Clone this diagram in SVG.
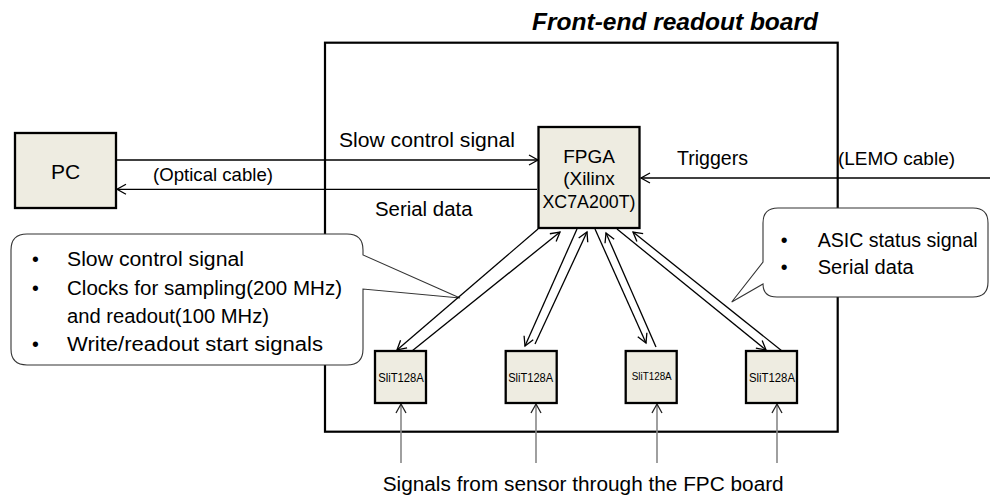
<svg xmlns="http://www.w3.org/2000/svg" width="990" height="497" viewBox="0 0 990 497">
<style>
text{font-family:"Liberation Sans",Arial,sans-serif;fill:#000}
.box{fill:#EEECE1;stroke:#000;stroke-width:2.3}
.board{fill:none;stroke:#000;stroke-width:2.2}
.call{fill:#fff;stroke:#333;stroke-width:1.1}
.ln{stroke:#000;stroke-width:1.3;fill:none;marker-end:url(#ah)}
.in{stroke:#888;stroke-width:1.6;fill:none;marker-end:url(#ahg)}
.t{font-size:19.5px}
.s{font-size:12.5px}
</style>
<defs>
<marker id="ah" markerUnits="userSpaceOnUse" markerWidth="12" markerHeight="12" refX="9" refY="5" orient="auto" overflow="visible">
<path d="M0,0 L9,5 L0,10" fill="none" stroke="#000" stroke-width="1.3"/>
</marker>
<marker id="ahg" markerUnits="userSpaceOnUse" markerWidth="12" markerHeight="12" refX="9" refY="5" orient="auto" overflow="visible">
<path d="M0,0 L9,5 L0,10" fill="none" stroke="#222" stroke-width="1.3"/>
</marker>
</defs>

<text x="532" y="29.5" font-size="24" font-weight="bold" font-style="italic" textLength="286" lengthAdjust="spacingAndGlyphs">Front-end readout board</text>

<g id="board"><rect class="board" x="325" y="42.7" width="512.7" height="389"/></g>

<g id="callout-left">
<path class="call" d="M27,234 H347 Q363,234 363,250 V255 L460,298 L363,289 V349 Q363,365 347,365 H27 Q11,365 11,349 V250 Q11,234 27,234 Z"/>
<text class="t" x="32" y="266">•</text>
<text class="t" x="67" y="266" textLength="177" lengthAdjust="spacingAndGlyphs">Slow control signal</text>
<text class="t" x="32" y="294.5">•</text>
<text class="t" x="67" y="294.5" textLength="275" lengthAdjust="spacingAndGlyphs">Clocks for sampling(200 MHz)</text>
<text class="t" x="67" y="322.8" textLength="202" lengthAdjust="spacingAndGlyphs">and readout(100 MHz)</text>
<text class="t" x="32" y="351">•</text>
<text class="t" x="67" y="351" textLength="256" lengthAdjust="spacingAndGlyphs">Write/readout start signals</text>
</g>

<g id="callout-right">
<path class="call" d="M778,208 H973 Q988,208 988,223 V282 Q988,297 973,297 H777 Q763,297 763,284 L731.7,302 L763,262 V223 Q763,208 778,208 Z"/>
<text class="t" x="780.7" y="247">•</text>
<text class="t" x="817.7" y="247" textLength="160" lengthAdjust="spacingAndGlyphs">ASIC status signal</text>
<text class="t" x="780.7" y="274">•</text>
<text class="t" x="817.7" y="274" textLength="96" lengthAdjust="spacingAndGlyphs">Serial data</text>
</g>

<g id="connectors">
<line class="ln" x1="116" y1="160" x2="538" y2="160"/>
<line class="ln" x1="537" y1="189.3" x2="117" y2="189.3"/>
<line class="ln" x1="990" y1="178" x2="641" y2="178"/>
<line class="ln" x1="538" y1="229" x2="397" y2="350"/>
<line class="ln" x1="412" y1="351" x2="560" y2="232"/>
<line class="ln" x1="577" y1="229" x2="525" y2="346"/>
<line class="ln" x1="535" y1="344" x2="587" y2="232"/>
<line class="ln" x1="595" y1="229" x2="646" y2="343"/>
<line class="ln" x1="656" y1="347" x2="606" y2="233"/>
<line class="ln" x1="617" y1="229" x2="766" y2="350"/>
<line class="ln" x1="782" y1="351" x2="633" y2="232"/>
<line class="in" x1="401" y1="463" x2="401" y2="404"/>
<line class="in" x1="536" y1="463" x2="536" y2="404"/>
<line class="in" x1="657" y1="463" x2="657" y2="404"/>
<line class="in" x1="777" y1="463" x2="777" y2="404"/>
</g>

<g id="labels">
<text class="t" x="339" y="146.7" textLength="176" lengthAdjust="spacingAndGlyphs">Slow control signal</text>
<text class="t" x="375" y="215.5" textLength="97.5" lengthAdjust="spacingAndGlyphs">Serial data</text>
<text x="153" y="180.5" font-size="18.5" textLength="120" lengthAdjust="spacingAndGlyphs">(Optical cable)</text>
<text class="t" x="677" y="165" textLength="71" lengthAdjust="spacingAndGlyphs">Triggers</text>
<text x="838" y="165" font-size="19" textLength="117" lengthAdjust="spacingAndGlyphs">(LEMO cable)</text>
<text class="t" x="382.7" y="490.7" textLength="401" lengthAdjust="spacingAndGlyphs">Signals from sensor through the FPC board</text>
</g>

<g id="pc">
<rect class="box" x="15" y="133" width="101" height="75"/>
<text x="65.5" y="179.3" font-size="21" text-anchor="middle">PC</text>
</g>

<g id="fpga">
<rect class="box" x="538.5" y="127" width="101" height="101"/>
<text x="589" y="162.5" font-size="19" text-anchor="middle">FPGA</text>
<text x="589" y="185.3" font-size="19" text-anchor="middle">(Xilinx</text>
<text x="589" y="207.5" font-size="19" text-anchor="middle" textLength="93" lengthAdjust="spacingAndGlyphs">XC7A200T)</text>
</g>

<g id="slit1">
<rect class="box" x="375" y="351" width="51" height="52"/>
<text class="s" x="401" y="381.5" text-anchor="middle" textLength="45.7" lengthAdjust="spacingAndGlyphs">SliT128A</text>
</g>
<g id="slit2">
<rect class="box" x="505.7" y="351" width="51" height="52"/>
<text class="s" x="530.7" y="381.5" text-anchor="middle" textLength="45" lengthAdjust="spacingAndGlyphs">SliT128A</text>
</g>
<g id="slit3">
<rect class="box" x="625.7" y="351" width="51" height="52"/>
<text x="651.7" y="380" font-size="11.5" text-anchor="middle" textLength="40" lengthAdjust="spacingAndGlyphs">SliT128A</text>
</g>
<g id="slit4">
<rect class="box" x="746" y="351" width="51" height="52"/>
<text class="s" x="772" y="381.5" text-anchor="middle" textLength="46" lengthAdjust="spacingAndGlyphs">SliT128A</text>
</g>
</svg>
